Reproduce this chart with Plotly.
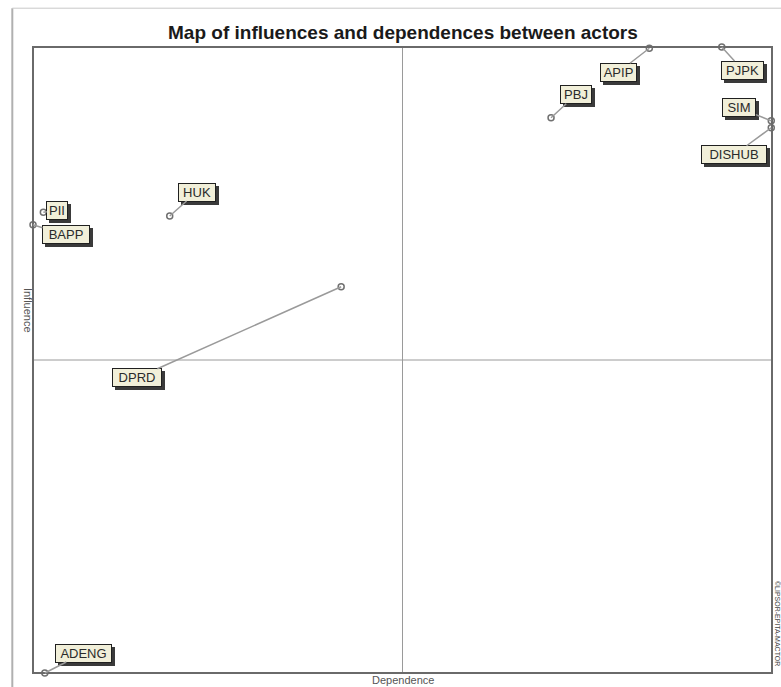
import plotly.graph_objects as go

actors = ["APIP", "PJPK", "PBJ", "SIM", "DISHUB", "PII", "BAPP", "HUK", "DPRD", "ADENG"]
dependence = [0.834, 0.932, 0.701, 0.999, 0.999, 0.014, 0.0, 0.185, 0.417, 0.016]
influence = [0.998, 1.0, 0.887, 0.882, 0.871, 0.736, 0.716, 0.730, 0.617, 0.0]

# label offsets / box widths in pixels (style only)
label_dx = [-31, 21, 25, -32, -37, 14, 33, 27, -204, 39]
label_dy = [24, 23, -23, -13, 27, -2, 10, -24, 91, -20]
label_w = [33, 39, 28, 30, 62, 18, 44, 34, 46, 53]

fig = go.Figure()
fig.add_trace(go.Scatter(
    x=dependence, y=influence, mode="markers",
    marker=dict(symbol="circle-open", size=6, color="#707070", line=dict(width=1.5)),
    cliponaxis=False, hoverinfo="text", text=actors, showlegend=False))

FONT = "Liberation Sans, Arial"
annotations = []
for name, x, y, dx, dy, w in zip(actors, dependence, influence, label_dx, label_dy, label_w):
    # shadow box
    annotations.append(dict(
        x=x, y=y, ax=dx, ay=dy, xref="x", yref="y", axref="pixel", ayref="pixel",
        text=" ", showarrow=True, arrowcolor="rgba(0,0,0,0)", arrowhead=0,
        xshift=3, yshift=-3, width=w, height=15,
        font=dict(family=FONT, size=13, color="#3a3a3a"),
        bgcolor="#3a3a3a", bordercolor="#3a3a3a", borderwidth=1, borderpad=1))
    # main label
    annotations.append(dict(
        x=x, y=y, ax=dx, ay=dy, xref="x", yref="y", axref="pixel", ayref="pixel",
        text=name, showarrow=True, arrowcolor="#9a9a9a", arrowhead=0, arrowwidth=1.5,
        width=w, height=15,
        font=dict(family=FONT, size=13, color="#2a2a2a"),
        bgcolor="#f1efd9", bordercolor="#202020", borderwidth=1, borderpad=1))

annotations += [
    dict(text="<b>Map of influences and dependences between actors</b>", x=0.5, y=1.0,
         yshift=27, xref="paper", yref="paper", showarrow=False,
         font=dict(family=FONT, size=19, color="#1a1a1a")),
    dict(text="Dependence", x=0.5, y=0, yshift=1, xref="paper", yref="paper", yanchor="top",
         showarrow=False, font=dict(family=FONT, size=11, color="#555")),
    dict(text="Influence", x=0, xshift=-13, y=0.58, xref="paper", yref="paper", textangle=90,
         showarrow=False, font=dict(family=FONT, size=11, color="#555")),
    dict(text="©LIPSOR-EPITA-MACTOR", x=1.0, xshift=5, y=0.08, xref="paper", yref="paper",
         xanchor="center", yanchor="middle", textangle=90, showarrow=False,
         font=dict(family=FONT, size=7, color="#444")),
]

shapes = [
    dict(type="line", xref="x", yref="paper", x0=0.5, x1=0.5, y0=0, y1=1,
         line=dict(color="#9a9a9a", width=1)),
    dict(type="line", xref="paper", yref="y", x0=0, x1=1, y0=0.5, y1=0.5,
         line=dict(color="#9a9a9a", width=1)),
    dict(type="rect", xref="paper", yref="paper", x0=0, x1=1, y0=0, y1=1,
         line=dict(color="#6a6a6a", width=2)),
    # outer frame lines
    dict(type="line", xref="paper", yref="paper", x0=-0.028, x1=-0.028, y0=-0.03, y1=1.062,
         line=dict(color="#b0b0b0", width=2)),
    dict(type="line", xref="paper", yref="paper", x0=-0.028, x1=1.02, y0=1.062, y1=1.062,
         line=dict(color="#c8c8c8", width=1)),
]

fig.update_layout(
    width=781, height=687,
    margin=dict(l=33, r=9, t=47, b=14),
    paper_bgcolor="white", plot_bgcolor="white",
    xaxis=dict(range=[0, 1], showgrid=False, zeroline=False, showticklabels=False,
               ticks="", fixedrange=True),
    yaxis=dict(range=[0, 1], showgrid=False, zeroline=False, showticklabels=False,
               ticks="", fixedrange=True),
    annotations=annotations, shapes=shapes, showlegend=False,
)
fig.write_html(
    "out.html",
    config={"displayModeBar": False},
    post_script="document.body.style.margin='0';document.body.style.overflow='hidden';",
)
